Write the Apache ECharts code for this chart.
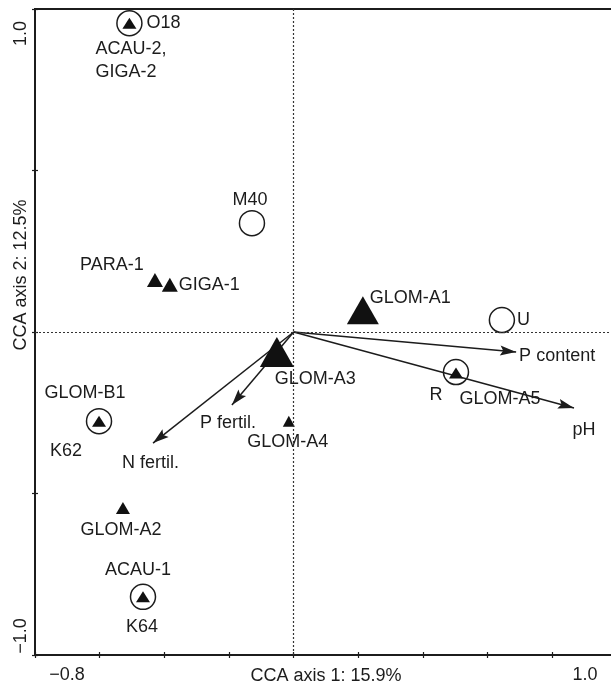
<!DOCTYPE html>
<html>
<head>
<meta charset="utf-8">
<script src="https://cdn.jsdelivr.net/npm/echarts@6/dist/echarts.min.js"></script>
<style>
  html, body { margin: 0; padding: 0; background: #fff; }
  #chart { width: 611px; height: 684px; }
</style>
</head>
<body>
<div id="chart"></div>
<script>
// CCA biplot: sites (open circles), AMF taxa (filled triangles), environmental vectors (arrows)

// Site scores
const siteNames = ['O18', 'M40', 'U', 'R', 'K62', 'K64'];
const siteX = [-0.508, -0.129, 0.644, 0.502, -0.602, -0.466];
const siteY = [0.956, 0.337, 0.037, -0.124, -0.276, -0.820];

// Species scores
const speciesNames = ['ACAU-2,\nGIGA-2', 'PARA-1', 'GIGA-1', 'GLOM-A1', 'GLOM-A3',
                      'GLOM-A5', 'GLOM-B1', 'GLOM-A4', 'GLOM-A2', 'ACAU-1'];
const speciesX = [-0.508, -0.429, -0.383, 0.214, -0.052, 0.502, -0.602, -0.015, -0.528, -0.466];
const speciesY = [0.956, 0.161, 0.146, 0.067, -0.062, -0.127, -0.276, -0.276, -0.545, -0.820];

// Environmental variable vectors (arrow tips; arrows start at the origin)
const envNames = ['P content', 'pH', 'P fertil.', 'N fertil.'];
const envX = [0.688, 0.867, -0.191, -0.435];
const envY = [-0.062, -0.235, -0.226, -0.344];

// Axis ranges and end labels
const xRange = [-0.8, 1.0];
const yRange = [-1.0, 1.0];
const xStep = 0.2;
const yStep = 0.5;
const xTickLabels = ['\u22120.8', '1.0'];
const yTickLabels = ['\u22121.0', '1.0'];
const xAxisTitle = 'CCA axis 1: 15.9%';
const yAxisTitle = 'CCA axis 2: 12.5%';

// ---- presentation ----
const INK = '#1c1c1c';
const FONT = '"Liberation Sans", Arial, Helvetica, sans-serif';
const FS = 18;

// label placement per point: [align, dx, dy] relative to the mark centre (pixels)
const labelSpot = {
  'O18': ['left', 17, 0],
  'M40': ['center', -2, -23],
  'U': ['left', 15, 0],
  'R': ['center', -20, 23],
  'K62': ['center', -33, 30],
  'K64': ['center', -1, 30],
  'ACAU-2,\nGIGA-2': ['left', -34, 37],
  'PARA-1': ['center', -43, -15],
  'GIGA-1': ['left', 9, 0],
  'GLOM-A1': ['left', 7, -12],
  'GLOM-A3': ['left', -2, 27],
  'GLOM-A5': ['center', 44, 26],
  'GLOM-B1': ['center', -14, -28],
  'GLOM-A4': ['center', -1, 21],
  'GLOM-A2': ['center', -2, 22],
  'ACAU-1': ['center', -5, -27],
  'P content': ['left', 3, 4],
  'pH': ['center', 10, 22],
  'P fertil.': ['left', -32, 18],
  'N fertil.': ['left', -31, 20]
};

// triangle box sizes [w, h]
const triSize = {
  'ACAU-2,\nGIGA-2': [14, 11],
  'PARA-1': [16, 14],
  'GIGA-1': [16, 14],
  'GLOM-A1': [32, 28],
  'GLOM-A3': [34, 30],
  'GLOM-A5': [14, 11],
  'GLOM-B1': [14, 11],
  'GLOM-A4': [12, 11],
  'GLOM-A2': [14, 12],
  'ACAU-1': [14, 11]
};

// Arrowhead in a square 32x32 symbol box: a 10-wide, 16-long notched head whose
// point sits at the box centre (the symbol is centred on the vector end).
// The two zero-length segments only pin the corners of the box.
const ARROW_HEAD = 'path://M0,0 L0,0 M32,0 L32,0 M16,16 L21,32 L16,29 L11,32 Z';
const ARROW_BOX = 32;

function labelFor(name) {
  const s = labelSpot[name];
  return {
    show: true,
    position: 'inside',
    align: s[0],
    verticalAlign: 'middle',
    offset: [s[1], s[2]],
    color: INK,
    opacity: 1,
    fontFamily: FONT,
    fontSize: FS,
    lineHeight: 23,
    formatter: name
  };
}

const near = (a, b) => Math.abs(a - b) < 1e-6;

// second, label-less axis pair: inward half of the ticks so they cross the axis line
const innerTicks = (pos, range, step) => ({
  type: 'value', position: pos, min: range[0], max: range[1], interval: step,
  axisLine: { show: false, onZero: false }, splitLine: { show: false }, axisLabel: { show: false },
  axisTick: { inside: true, length: 3, lineStyle: { color: INK, width: 1.2 } }
});

const chart = echarts.init(document.getElementById('chart'), null, { renderer: 'canvas' });

chart.setOption({
  animation: false,
  backgroundColor: '#fff',
  textStyle: { fontFamily: FONT, color: INK },
  grid: {
    left: 35, top: 9, right: -6, bottom: 29,
    show: true, borderColor: INK, borderWidth: 2,
    backgroundColor: 'transparent',
    outerBoundsMode: 'none'
  },
  xAxis: [{
    type: 'value',
    position: 'bottom',
    min: xRange[0], max: xRange[1], interval: xStep,
    splitLine: { show: false },
    axisLine: { onZero: false, lineStyle: { color: INK, width: 1.5 } },
    axisTick: { length: 3, lineStyle: { color: INK, width: 1.2 } },
    axisLabel: {
      showMinLabel: true, showMaxLabel: true,
      margin: 11,
      color: INK, fontFamily: FONT, fontSize: FS,
      formatter: v => near(v, xRange[0]) ? '{lo|' + xTickLabels[0] + '}'
                    : near(v, xRange[1]) ? '{hi|' + xTickLabels[1] + '}' : '',
      rich: {
        lo: { fontFamily: FONT, fontSize: FS, color: INK, padding: [0, 0, 0, 64] },
        hi: { fontFamily: FONT, fontSize: FS, color: INK, padding: [0, 64, 0, 0] }
      }
    },
    name: xAxisTitle,
    nameLocation: 'middle',
    nameGap: 12,
    nameMoveOverlap: false,
    nameTextStyle: { fontFamily: FONT, fontSize: FS, color: INK, verticalAlign: 'top' }
  }, innerTicks('bottom', xRange, xStep)],
  yAxis: [{
    type: 'value',
    position: 'left',
    min: yRange[0], max: yRange[1], interval: yStep,
    splitLine: { show: false },
    axisLine: { onZero: false, lineStyle: { color: INK, width: 1.5 } },
    axisTick: { length: 3, lineStyle: { color: INK, width: 1.2 } },
    axisLabel: {
      showMinLabel: true, showMaxLabel: true,
      rotate: 90,
      margin: 5,
      color: INK, fontFamily: FONT, fontSize: FS,
      formatter: v => near(v, yRange[0]) ? '{lo|' + yTickLabels[0] + '}'
                    : near(v, yRange[1]) ? '{hi|' + yTickLabels[1] + '}' : '',
      rich: {
        lo: { fontFamily: FONT, fontSize: FS, color: INK, padding: [0, 0, 0, 38] },
        hi: { fontFamily: FONT, fontSize: FS, color: INK, padding: [0, 49, 0, 0] }
      }
    },
    name: yAxisTitle,
    nameLocation: 'middle',
    nameRotate: 90,
    nameGap: 5,
    nameMoveOverlap: false,
    nameTextStyle: { fontFamily: FONT, fontSize: FS, color: INK, verticalAlign: 'bottom', padding: [0, 0, 0, 114] }
  }, innerTicks('left', yRange, yStep)],
  series: [
    {
      // dotted reference lines through the origin
      type: 'scatter',
      data: [],
      silent: true,
      markLine: {
        silent: true,
        symbol: ['none', 'none'],
        label: { show: false },
        lineStyle: { color: '#333', width: 1.2, type: [2, 2] },
        data: [{ xAxis: 0 }, { yAxis: 0 }]
      }
    },
    {
      // environmental vectors
      type: 'lines',
      coordinateSystem: 'cartesian2d',
      silent: true,
      symbol: ['none', ARROW_HEAD],
      symbolSize: ARROW_BOX,
      lineStyle: { color: INK, width: 1.5, opacity: 1 },
      data: envNames.map((n, i) => ({ coords: [[0, 0], [envX[i], envY[i]]] }))
    },
    {
      // labels at vector tips
      type: 'scatter',
      silent: true,
      symbol: 'circle',
      symbolSize: 1,
      itemStyle: { color: 'rgba(0,0,0,0)', opacity: 1 },
      data: envNames.map((n, i) => ({ value: [envX[i], envY[i]], label: labelFor(n) }))
    },
    {
      // sites
      type: 'scatter',
      silent: true,
      symbol: 'circle',
      symbolSize: 25,
      itemStyle: { color: 'rgba(255,255,255,0)', borderColor: INK, borderWidth: 1.5, opacity: 1 },
      data: siteNames.map((n, i) => ({ value: [siteX[i], siteY[i]], label: labelFor(n) }))
    },
    {
      // species
      type: 'scatter',
      silent: true,
      symbol: 'triangle',
      itemStyle: { color: '#111', opacity: 1 },
      data: speciesNames.map((n, i) => ({
        value: [speciesX[i], speciesY[i]],
        symbolSize: triSize[n],
        label: labelFor(n)
      }))
    }
  ]
});
</script>
</body>
</html>
